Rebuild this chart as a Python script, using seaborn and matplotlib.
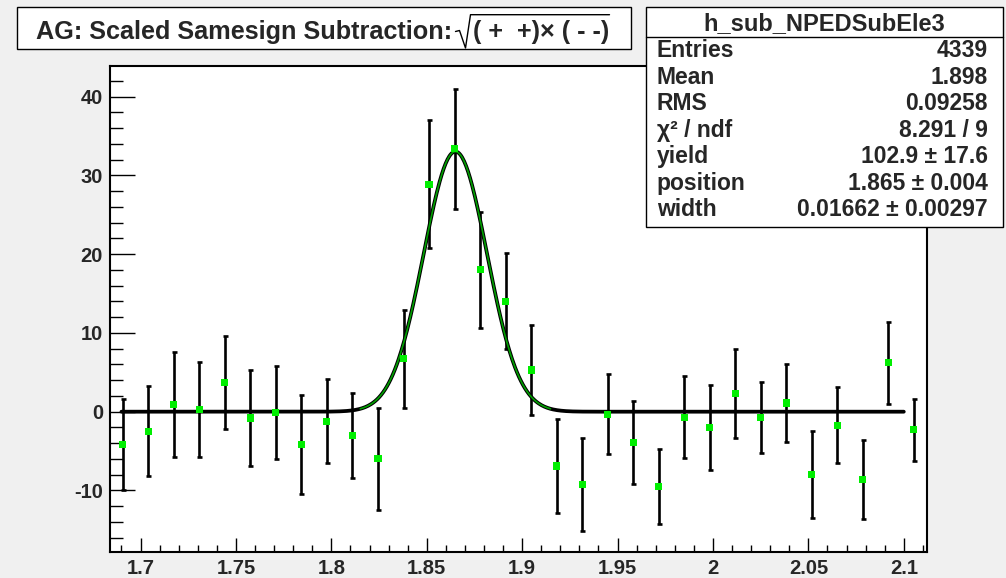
import numpy as np
import pandas as pd
import matplotlib
matplotlib.use("Agg")
import matplotlib.pyplot as plt
import seaborn as sns
from matplotlib.patches import Rectangle
from matplotlib.lines import Line2D
from matplotlib.ticker import MultipleLocator, FuncFormatter

# ---------------- data ----------------
x_min, x_max, n_bins = 1.684, 2.112, 32
y_vals = [-4.2, -2.5, 0.9, 0.3, 3.7, -0.8, -0.1, -4.2, -1.2, -3.0, -6.0,
          6.7, 28.9, 33.4, 18.0, 14.0, 5.3, -6.9, -9.2, -0.3, -3.9, -9.5,
          -0.7, -2.0, 2.3, -0.7, 1.1, -8.0, -1.7, -8.6, 6.2, -2.3]
y_errs = [5.8, 5.7, 6.7, 6.05, 5.9, 6.1, 5.9, 6.3, 5.3, 5.4, 6.45,
          6.2, 8.1, 7.6, 7.4, 6.1, 5.7, 6.0, 5.9, 5.1, 5.3, 4.8,
          5.2, 5.45, 5.7, 4.5, 4.9, 5.5, 4.85, 5.0, 5.2, 3.95]
fit_yield, fit_pos, fit_width = 102.9, 1.865, 0.01662
fit_range = (1.69, 2.10)

title_main = "AG: Scaled Samesign Subtraction:"
title_root = "( +  +)\u00d7 ( - -)"
stats_name = "h_sub_NPEDSubEle3"
stats_labels = ["Entries", "Mean", "RMS", "\u03c7\u00b2 / ndf", "yield", "position", "width"]
stats_values = ["4339", "1.898", "0.09258", "8.291 / 9", "102.9 \u00b1 17.6",
                "1.865 \u00b1 0.004", "0.01662 \u00b1 0.00297"]
x_tick_vals = [1.7, 1.75, 1.8, 1.85, 1.9, 1.95, 2.0, 2.05, 2.1]
y_tick_vals = [-10, 0, 10, 20, 30, 40]

# ---------------- style ----------------
sns.set_style("ticks")
plt.rcParams["font.family"] = ["Liberation Sans", "DejaVu Sans"]
plt.rcParams["font.weight"] = "bold"
plt.rcParams["axes.unicode_minus"] = False

W, H = 1006, 578
fig = plt.figure(figsize=(W / 100, H / 100), dpi=100, facecolor="#f0f0f0")
L, R, T, B = 110, 926.7, 65.7, 551.7
ax = fig.add_axes([L / W, 1 - B / H, (R - L) / W, (B - T) / H])
ax.set_facecolor("white")

bin_w = (x_max - x_min) / n_bins
edges = np.linspace(x_min, x_max, n_bins + 1)
centers = 0.5 * (edges[:-1] + edges[1:])
df = pd.DataFrame({"x": centers, "y": y_vals, "err": y_errs})

amp = fit_yield * bin_w / (np.sqrt(2 * np.pi) * fit_width)
x_full = np.linspace(fit_range[0], fit_range[1], 800)
y_full = amp * np.exp(-0.5 * ((x_full - fit_pos) / fit_width) ** 2)
x_g = np.linspace(fit_pos - 3 * fit_width, fit_pos + 3 * fit_width, 400)
y_g = amp * np.exp(-0.5 * ((x_g - fit_pos) / fit_width) ** 2)

ax.errorbar(df["x"], df["y"], yerr=df["err"], fmt="none", ecolor="black",
            elinewidth=1.9, capsize=1.8, capthick=1.9, zorder=3)
sns.lineplot(x=x_full, y=y_full, color="black", linewidth=2.7, ax=ax, zorder=4)
sns.lineplot(x=x_g, y=y_g, color="#00a000", linewidth=1.2, ax=ax, zorder=5)
sns.scatterplot(data=df, x="x", y="y", marker="s", s=26, color="#00ee00",
                edgecolor="none", linewidth=0, ax=ax, zorder=6)

ax.set_xlim(x_min, x_max)
ax.set_ylim(-17.78, 43.94)
ax.set_xlabel("")
ax.set_ylabel("")
ax.set_xticks(x_tick_vals)
ax.set_yticks(y_tick_vals)
ax.xaxis.set_minor_locator(MultipleLocator(0.01))
ax.yaxis.set_minor_locator(MultipleLocator(2))
ax.xaxis.set_major_formatter(FuncFormatter(lambda v, p: ("%.2f" % v).rstrip("0").rstrip(".")))
ax.yaxis.set_major_formatter(FuncFormatter(lambda v, p: "%d" % round(v)))
ax.tick_params(axis="both", which="both", direction="in", width=1.0, color="black",
               labelsize=14.5, top=False, right=False)
ax.tick_params(axis="x", which="major", length=10, pad=5)
ax.tick_params(axis="x", which="minor", length=5)
ax.tick_params(axis="y", which="major", length=18, pad=5)
ax.tick_params(axis="y", which="minor", length=9.4)
for lab in ax.get_xticklabels() + ax.get_yticklabels():
    lab.set_fontweight("bold")
for sp in ax.spines.values():
    sp.set_linewidth(1.5)
    sp.set_color("black")
    sp.set_visible(True)


def fx(px):
    return px / W


def fy(py):
    return 1 - py / H


# ---------------- title box ----------------
fig.add_artist(Rectangle((fx(17.3), fy(49.3)), (630.7 - 17.3) / W, (49.3 - 7.3) / H,
                         transform=fig.transFigure, facecolor="white",
                         edgecolor="black", linewidth=1.0, zorder=10))
fig.text(fx(36), fy(39.3), title_main, fontsize=18.2, fontweight="bold",
         ha="left", va="baseline", zorder=11)
rad_x = [455.5, 459.5, 465.5, 470.5, 609.5]
rad_y = [31.5, 30.5, 48.0, 14.7, 14.7]
fig.add_artist(Line2D([fx(v) for v in rad_x], [fy(v) for v in rad_y],
                      transform=fig.transFigure, color="black", linewidth=1.0,
                      zorder=11))
fig.text(fx(473), fy(39.3), title_root, fontsize=18.2, fontweight="bold",
         ha="left", va="baseline", zorder=11)

# ---------------- stats box ----------------
sx0, sx1, sy0, sy1 = 646, 1003, 6.7, 227
fig.add_artist(Rectangle((fx(sx0), fy(sy1)), (sx1 - sx0) / W, (sy1 - sy0) / H,
                         transform=fig.transFigure, facecolor="white",
                         edgecolor="black", linewidth=1.0, zorder=10))
fig.add_artist(Line2D([fx(sx0), fx(sx1)], [fy(36.5), fy(36.5)],
                      transform=fig.transFigure, color="black", linewidth=1.0, zorder=11))
fig.text(fx(824.5), fy(30), stats_name, fontsize=17, fontweight="bold",
         ha="center", va="baseline", zorder=11)
base0, step = 57.3, 26.5
for i, (lab, val) in enumerate(zip(stats_labels, stats_values)):
    yb = base0 + i * step
    fig.text(fx(656.7), fy(yb), lab, fontsize=16.5, fontweight="bold",
             ha="left", va="baseline", zorder=11)
    fig.text(fx(987.7), fy(yb), val, fontsize=16.5, fontweight="bold",
             ha="right", va="baseline", zorder=11)

fig.savefig("out.png", dpi=100, facecolor=fig.get_facecolor())
